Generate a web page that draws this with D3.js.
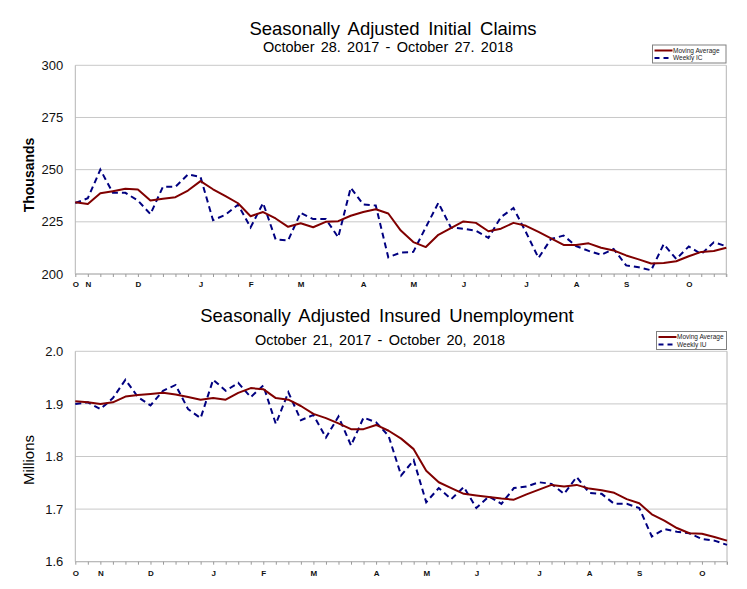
<!DOCTYPE html>
<html>
<head>
<meta charset="utf-8">
<script src="https://cdn.jsdelivr.net/npm/d3@7"></script>
<style>
  html, body { margin: 0; padding: 0; background: #fff; }
  svg { display: block; font-family: "Liberation Sans", Arial, sans-serif; }
</style>
</head>
<body>
<div id="chart"></div>
<script>
// Month letters under the x axis (first week of each month)
const monthLetters = ["O", "N", "D", "J", "F", "M", "A", "M", "J", "J", "A", "S", "O"];
const icMonthIdx = [0, 1, 5, 10, 14, 18, 23, 27, 31, 36, 40, 44, 49];
const iuMonthIdx = [0, 2, 6, 11, 15, 19, 24, 28, 32, 37, 41, 45, 50];

// Initial claims, thousands (Oct 28 2017 - Oct 27 2018)
const icMovingAvg = [
  234.4, 233.5, 238.7, 239.7, 240.8, 240.5, 235.2, 236.1, 236.8, 240.0,
  244.5, 240.6, 237.3, 233.9, 227.7, 229.7, 226.6, 222.6, 224.3, 222.4,
  225.0, 225.3, 227.9, 229.7, 231.0, 229.0, 220.8, 215.3, 212.9, 218.8,
  222.0, 225.2, 224.5, 220.5, 221.7, 224.5, 223.1, 220.2, 217.1, 213.9,
  213.9, 214.7, 212.6, 211.3, 208.9, 207.0, 205.0, 205.3, 206.1, 208.5,
  210.6, 211.0, 212.6
];
const icWeekly = [
  234.0, 236.3, 250.0, 238.9, 238.9, 235.2, 228.7, 241.8, 241.8, 247.7,
  246.5, 225.8, 228.4, 233.2, 222.3, 234.0, 216.6, 216.1, 229.3, 226.3,
  226.4, 217.6, 241.3, 233.3, 232.8, 208.0, 210.3, 210.6, 222.4, 234.1,
  222.3, 221.7, 220.7, 217.3, 227.3, 231.6, 220.0, 207.7, 216.8, 218.4,
  213.4, 211.1, 209.2, 212.0, 204.1, 203.2, 201.8, 214.3, 207.2, 213.2,
  209.5, 215.2, 213.3
];
const icTicks = [200, 225, 250, 275, 300];

// Insured unemployment, millions (Oct 21 2017 - Oct 20 2018)
const iuMovingAvg = [
  1.905, 1.903, 1.900, 1.903, 1.914, 1.917, 1.919, 1.921, 1.918, 1.913,
  1.908, 1.911, 1.908, 1.921, 1.930, 1.928, 1.911, 1.908, 1.896, 1.881,
  1.873, 1.863, 1.852, 1.852, 1.860, 1.849, 1.834, 1.814, 1.773, 1.751,
  1.740, 1.729, 1.726, 1.723, 1.720, 1.718, 1.728, 1.737, 1.746, 1.743,
  1.746, 1.739, 1.736, 1.731, 1.719, 1.711, 1.690, 1.678, 1.664, 1.654,
  1.653, 1.647, 1.640
];
const iuWeekly = [
  1.900, 1.903, 1.890, 1.911, 1.946, 1.913, 1.897, 1.925, 1.936, 1.890,
  1.873, 1.946, 1.925, 1.940, 1.913, 1.935, 1.862, 1.922, 1.869, 1.879,
  1.836, 1.876, 1.821, 1.874, 1.865, 1.839, 1.764, 1.793, 1.713, 1.740,
  1.719, 1.742, 1.702, 1.724, 1.710, 1.740, 1.743, 1.751, 1.748, 1.729,
  1.761, 1.731, 1.729, 1.710, 1.710, 1.702, 1.648, 1.662, 1.657, 1.654,
  1.643, 1.640, 1.632
];
const iuTicks = [1.6, 1.7, 1.8, 1.9, 2.0];

const w = 747, h = 589;

const svg = d3.select("#chart").append("svg")
  .attr("width", w)
  .attr("height", h);

function drawPanel(p) {
  const g = svg.append("g");

  const x = d3.scaleLinear()
    .domain([0, p.avg.length - 1])
    .range([p.left, p.right]);

  const y = d3.scaleLinear()
    .domain(d3.extent(p.yTicks))
    .range([p.bottom, p.top]);

  // Titles
  g.append("text")
    .attr("x", p.titleX)
    .attr("y", p.titleY)
    .attr("text-anchor", "middle")
    .attr("font-size", 18.5)
    .attr("word-spacing", 3.5)
    .attr("fill", "#000")
    .text(p.title);

  g.append("text")
    .attr("x", p.subX)
    .attr("y", p.subY)
    .attr("text-anchor", "middle")
    .attr("font-size", 14.5)
    .attr("word-spacing", 2.2)
    .attr("fill", "#000")
    .text(p.subtitle);

  // Gridlines
  g.append("g")
    .selectAll("line")
    .data(p.yTicks)
    .join("line")
    .attr("x1", p.left)
    .attr("x2", p.right)
    .attr("y1", (d) => y(d))
    .attr("y2", (d) => y(d))
    .attr("stroke", "#c8c8c8")
    .attr("stroke-width", 1);

  // Frame sides
  g.append("line")
    .attr("x1", p.left).attr("x2", p.left)
    .attr("y1", p.top).attr("y2", p.bottom)
    .attr("stroke", "#b4b4b4");
  g.append("line")
    .attr("x1", p.right).attr("x2", p.right)
    .attr("y1", p.top).attr("y2", p.bottom + 3)
    .attr("stroke", "#b4b4b4");

  // Y axis labels
  const yAxis = d3.axisLeft(y)
    .tickValues(p.yTicks)
    .tickSize(0)
    .tickPadding(12)
    .tickFormat(p.yFormat);
  const ya = g.append("g")
    .attr("transform", `translate(${p.left},0)`)
    .call(yAxis);
  ya.select(".domain").remove();
  ya.selectAll("text")
    .attr("font-size", 13)
    .attr("font-family", "Liberation Sans, Arial, sans-serif")
    .attr("fill", "#111");

  // X axis: a tick every week, letters at month starts
  const letterByIdx = new Map(p.monthIdx.map((d, i) => [d, monthLetters[i]]));
  const xAxis = d3.axisBottom(x)
    .tickValues(d3.range(p.avg.length))
    .tickSize(3)
    .tickPadding(p.xPad)
    .tickFormat((d) => letterByIdx.get(d) || "");
  const xa = g.append("g")
    .attr("transform", `translate(0,${p.bottom})`)
    .call(xAxis);
  xa.select(".domain")
    .attr("stroke", "#b4b4b4")
    .attr("d", `M${p.left},0H${p.right}`);
  xa.selectAll(".tick line").attr("stroke", "#9a9a9a");
  xa.selectAll("text")
    .attr("font-size", 8)
    .attr("font-weight", "bold")
    .attr("font-family", "Liberation Sans, Arial, sans-serif")
    .attr("fill", "#111");

  // Y axis title
  g.append("text")
    .attr("transform", `translate(${p.yLabelX},${p.yLabelY}) rotate(-90)`)
    .attr("text-anchor", "middle")
    .attr("font-size", p.yLabelSize)
    .attr("font-weight", p.yLabelWeight)
    .attr("fill", "#000")
    .text(p.yLabel);

  // Series
  const line = d3.line()
    .x((d, i) => x(i))
    .y((d) => y(d));

  g.append("path")
    .datum(p.weekly)
    .attr("fill", "none")
    .attr("stroke", "#000080")
    .attr("stroke-width", 2)
    .attr("stroke-dasharray", "6,4")
    .attr("d", line);

  g.append("path")
    .datum(p.avg)
    .attr("fill", "none")
    .attr("stroke", "#800000")
    .attr("stroke-width", 2)
    .attr("stroke-linejoin", "round")
    .attr("d", line);

  // Legend
  const lg = g.append("g")
    .attr("transform", `translate(${p.legX},${p.legY})`);
  lg.append("rect")
    .attr("x", 0).attr("y", 0)
    .attr("width", p.legW).attr("height", 18)
    .attr("fill", "#fff")
    .attr("stroke", "#808080")
    .attr("stroke-width", 1);

  const items = [
    { name: "Moving Average", color: "#800000", dash: null },
    { name: p.weeklyName, color: "#000080", dash: "5,4" }
  ];
  items.forEach((it, i) => {
    const yy = 5.5 + i * 7.5;
    lg.append("line")
      .attr("x1", 2).attr("x2", 20)
      .attr("y1", yy).attr("y2", yy)
      .attr("stroke", it.color)
      .attr("stroke-width", 2)
      .attr("stroke-dasharray", it.dash);
    lg.append("text")
      .attr("x", 20.5)
      .attr("y", yy + 2.2)
      .attr("font-size", 6.5)
      .attr("fill", "#222")
      .text(it.name);
  });
}

drawPanel({
  title: "Seasonally Adjusted Initial Claims",
  subtitle: "October 28. 2017 - October 27. 2018",
  titleX: 393, titleY: 35,
  subX: 388, subY: 52,
  avg: icMovingAvg, weekly: icWeekly, weeklyName: "Weekly IC",
  monthIdx: icMonthIdx,
  yTicks: icTicks, yFormat: d3.format("d"),
  left: 75.3, right: 726.3, top: 65.3, bottom: 274,
  xPad: 4,
  yLabel: "Thousands", yLabelX: 34, yLabelY: 175, yLabelSize: 14, yLabelWeight: "bold",
  legX: 652.5, legY: 45, legW: 73.5
});

drawPanel({
  title: "Seasonally Adjusted Insured Unemployment",
  subtitle: "October 21, 2017 - October 20, 2018",
  titleX: 387, titleY: 322,
  subX: 380, subY: 345,
  avg: iuMovingAvg, weekly: iuWeekly, weeklyName: "Weekly IU",
  monthIdx: iuMonthIdx,
  yTicks: iuTicks, yFormat: d3.format(".1f"),
  left: 75.3, right: 727, top: 351.3, bottom: 561.7,
  xPad: 6,
  yLabel: "Millions", yLabelX: 34, yLabelY: 460, yLabelSize: 15, yLabelWeight: "normal",
  legX: 656.5, legY: 331.5, legW: 70
});
</script>
</body>
</html>
